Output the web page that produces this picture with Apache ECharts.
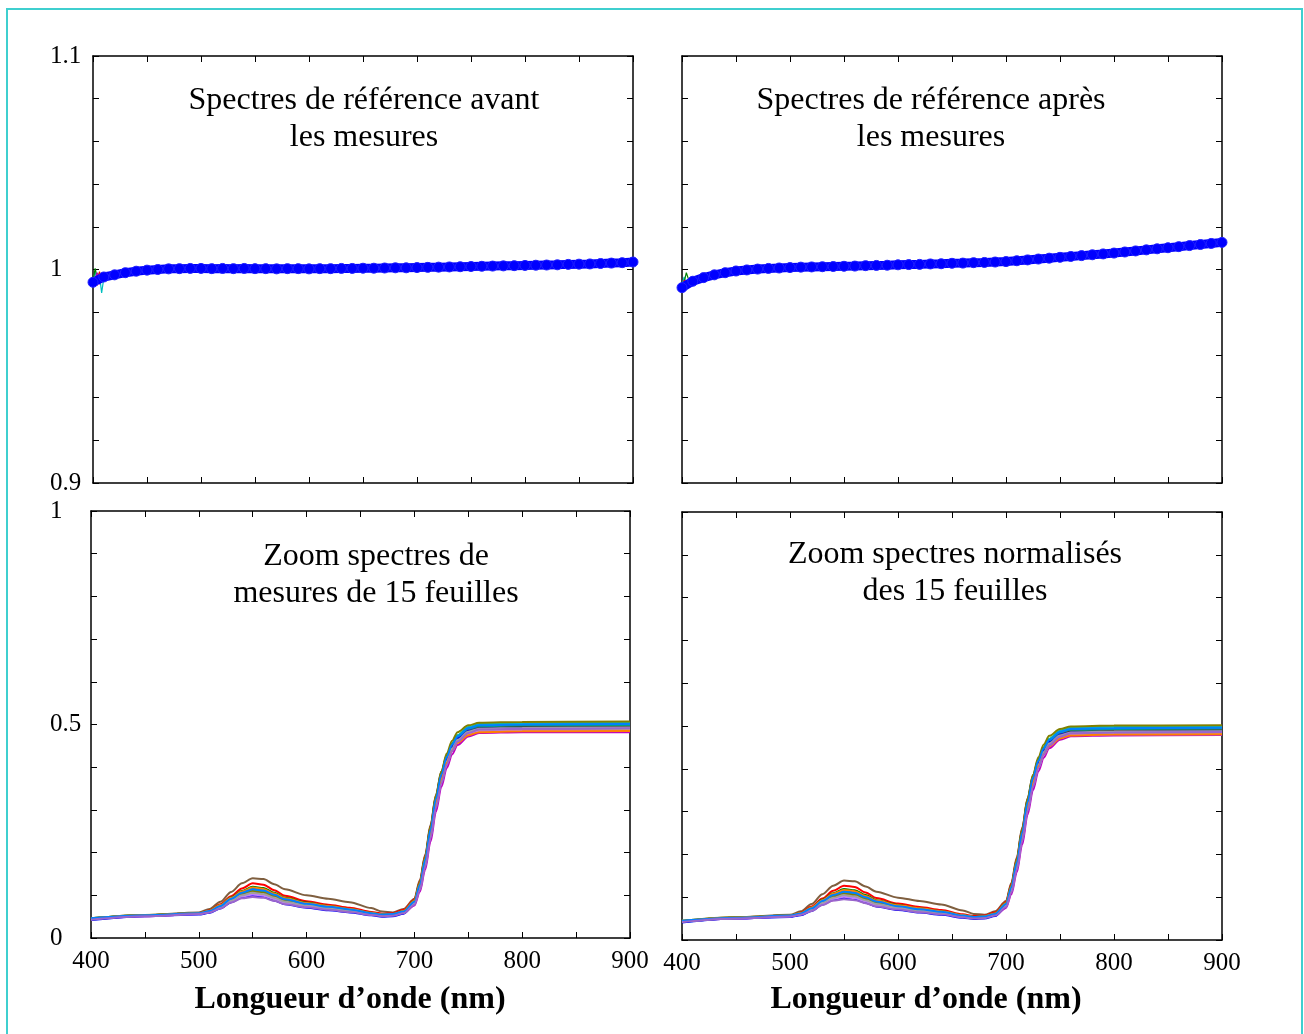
<!DOCTYPE html>
<html>
<head>
<meta charset="utf-8">
<script src="https://cdn.jsdelivr.net/npm/echarts@6/dist/echarts.min.js"></script>
<style>
html,body{margin:0;padding:0;background:#fff;}
#chart{width:1304px;height:1034px;}
</style>
</head>
<body>
<div id="chart"></div>
<script>
// ---------- DATA ----------
const xTickLabels = [400, 500, 600, 700, 800, 900];
const yTopLabels = [0.9, 1, 1.1];
const yBottomLabels = [0, 0.5, 1];

const titleTL = ["Spectres de référence avant", "les mesures"];
const titleTR = ["Spectres de référence après", "les mesures"];
const titleBL = ["Zoom spectres de", "mesures de 15 feuilles"];
const titleBR = ["Zoom spectres normalisés", "des 15 feuilles"];
const xName = "Longueur d’onde (nm)";

// reference spectra wavelengths (nm)
const wlRef = [400,410,420,430,440,450,460,470,480,490,500,510,520,530,540,550,560,570,580,590,600,
  610,620,630,640,650,660,670,680,690,700,710,720,730,740,750,760,770,780,790,800,
  810,820,830,840,850,860,870,880,890,900];
const refAvant = [0.9940,0.9965,0.9975,0.9985,0.9992,0.9997,1.0000,1.0003,1.0004,1.0005,1.0005,1.0004,1.0005,1.0004,1.0005,1.0004,1.0004,1.0003,1.0004,1.0004,1.0003,
  1.0004,1.0004,1.0005,1.0005,1.0006,1.0006,1.0007,1.0008,1.0008,1.0009,1.0010,1.0011,1.0012,1.0013,1.0014,1.0015,1.0016,1.0017,1.0018,1.0019,
  1.0020,1.0021,1.0022,1.0024,1.0025,1.0026,1.0028,1.0030,1.0032,1.0035];
const refApres = [0.9915,0.9945,0.9962,0.9975,0.9985,0.9993,0.9998,1.0002,1.0005,1.0007,1.0009,1.0011,1.0012,1.0013,1.0014,1.0015,1.0016,1.0018,1.0019,1.0020,1.0022,
  1.0023,1.0024,1.0026,1.0027,1.0029,1.0030,1.0032,1.0033,1.0035,1.0037,1.0041,1.0045,1.0049,1.0053,1.0057,1.0061,1.0065,1.0069,1.0073,1.0077,
  1.0082,1.0087,1.0092,1.0097,1.0102,1.0107,1.0112,1.0117,1.0122,1.0127];

// noisy start of the other reference scans (mostly hidden under the blue one)
const wlNoise = [400,402,404,406,408,410,412];
const noiseAvant = [
  [0.9950,0.9990,0.9935,0.9975,0.9890,0.9960,0.9968],
  [0.9945,1.0005,0.9960,0.9985,0.9950,0.9975,0.9978],
  [0.9930,0.9965,0.9925,0.9990,0.9945,0.9970,0.9972],
  [0.9940,0.9960,0.9985,0.9930,0.9965,0.9968,0.9975]
];
const noiseApres = [
  [0.9925,0.9965,0.9920,0.9950,0.9940,0.9948,0.9955],
  [0.9920,0.9940,0.9985,0.9955,0.9945,0.9950,0.9958],
  [0.9905,0.9950,0.9930,0.9945,0.9935,0.9946,0.9952],
  [0.9915,0.9935,0.9950,0.9920,0.9948,0.9944,0.9956]
];
const noiseColors = ["#00bfbf", "#008000", "#ff0000", "#bf00bf"];

// leaf spectra wavelengths (nm)
const wlLeaf = [400,450,500,510,520,530,540,550,560,570,580,600,620,640,660,670,680,690,700,705,710,715,720,725,730,735,740,750,760,800,900];
const leafA = [0.046,0.054,0.060,0.068,0.085,0.108,0.128,0.140,0.138,0.126,0.114,0.100,0.092,0.084,0.070,0.062,0.060,0.068,0.092,0.135,0.195,0.265,0.335,0.390,0.428,0.455,0.472,0.490,0.496,0.497,0.498];
const leafB = [0.044,0.053,0.058,0.065,0.079,0.098,0.116,0.128,0.125,0.112,0.099,0.086,0.078,0.071,0.061,0.057,0.058,0.066,0.090,0.132,0.192,0.262,0.332,0.386,0.425,0.452,0.470,0.488,0.494,0.495,0.496];
const leafC = [0.045,0.053,0.058,0.064,0.077,0.095,0.110,0.120,0.117,0.106,0.094,0.083,0.075,0.068,0.059,0.055,0.056,0.063,0.086,0.126,0.186,0.256,0.328,0.385,0.426,0.455,0.474,0.492,0.498,0.500,0.501];
const leafD = [0.043,0.052,0.057,0.062,0.074,0.090,0.104,0.112,0.109,0.099,0.089,0.079,0.072,0.066,0.058,0.054,0.055,0.062,0.084,0.122,0.180,0.250,0.322,0.380,0.424,0.455,0.475,0.494,0.501,0.503,0.504];
const leafE = [0.044,0.051,0.056,0.060,0.070,0.084,0.094,0.098,0.096,0.088,0.080,0.073,0.067,0.062,0.055,0.052,0.053,0.058,0.076,0.108,0.160,0.226,0.296,0.354,0.398,0.430,0.452,0.472,0.480,0.482,0.482];
const leafF = [0.046,0.053,0.057,0.061,0.072,0.087,0.099,0.104,0.101,0.093,0.084,0.076,0.070,0.064,0.057,0.054,0.055,0.061,0.082,0.118,0.174,0.242,0.312,0.368,0.410,0.440,0.460,0.479,0.486,0.488,0.489];
const leafG = [0.045,0.052,0.057,0.062,0.073,0.089,0.102,0.108,0.105,0.096,0.087,0.078,0.071,0.065,0.057,0.054,0.055,0.062,0.085,0.124,0.182,0.252,0.322,0.378,0.418,0.447,0.466,0.485,0.492,0.495,0.495];
const leafH = [0.042,0.051,0.055,0.059,0.069,0.084,0.095,0.100,0.097,0.088,0.079,0.071,0.065,0.060,0.053,0.050,0.051,0.057,0.080,0.118,0.176,0.246,0.318,0.376,0.418,0.448,0.468,0.485,0.490,0.491,0.492];
const leafI = [0.044,0.052,0.056,0.061,0.071,0.086,0.097,0.102,0.099,0.091,0.082,0.074,0.068,0.063,0.056,0.053,0.054,0.060,0.080,0.115,0.170,0.238,0.308,0.365,0.408,0.438,0.458,0.477,0.484,0.486,0.486];
const leafJ = [0.045,0.053,0.058,0.063,0.076,0.093,0.107,0.116,0.113,0.103,0.092,0.081,0.074,0.067,0.058,0.055,0.056,0.063,0.087,0.128,0.188,0.258,0.330,0.386,0.426,0.454,0.472,0.490,0.496,0.498,0.499];
const leafK = [0.046,0.054,0.058,0.063,0.075,0.091,0.104,0.110,0.107,0.098,0.088,0.079,0.072,0.066,0.058,0.055,0.056,0.063,0.088,0.130,0.190,0.262,0.334,0.390,0.432,0.462,0.482,0.498,0.504,0.506,0.507];
const leafL = [0.044,0.052,0.057,0.061,0.072,0.088,0.100,0.106,0.103,0.094,0.085,0.077,0.070,0.064,0.056,0.053,0.054,0.061,0.083,0.120,0.177,0.246,0.317,0.373,0.414,0.444,0.464,0.483,0.490,0.492,0.493];
const leafM = [0.045,0.053,0.058,0.064,0.077,0.094,0.109,0.118,0.115,0.104,0.093,0.082,0.075,0.068,0.059,0.055,0.056,0.063,0.086,0.125,0.183,0.250,0.318,0.372,0.410,0.438,0.457,0.475,0.482,0.484,0.485];
const leafN = [0.046,0.053,0.058,0.063,0.075,0.092,0.106,0.114,0.111,0.101,0.091,0.080,0.073,0.067,0.058,0.055,0.056,0.062,0.085,0.124,0.183,0.254,0.326,0.383,0.424,0.453,0.472,0.491,0.498,0.500,0.501];
const leafO = [0.043,0.051,0.056,0.060,0.069,0.083,0.093,0.096,0.094,0.087,0.079,0.072,0.066,0.061,0.054,0.051,0.052,0.058,0.078,0.112,0.166,0.234,0.305,0.362,0.406,0.438,0.460,0.480,0.488,0.490,0.491];

// normalized spectra (peak values match the left, plateau slightly lower)
const normA = [0.044,0.053,0.059,0.067,0.084,0.107,0.127,0.139,0.137,0.125,0.113,0.099,0.091,0.083,0.069,0.061,0.059,0.067,0.091,0.134,0.193,0.262,0.331,0.385,0.423,0.449,0.466,0.484,0.490,0.491,0.492];
const normB = [0.043,0.052,0.057,0.064,0.078,0.097,0.115,0.127,0.124,0.111,0.098,0.085,0.077,0.070,0.060,0.056,0.057,0.065,0.089,0.131,0.190,0.259,0.328,0.381,0.420,0.446,0.464,0.482,0.488,0.489,0.490];
const normC = [0.044,0.052,0.057,0.063,0.076,0.094,0.109,0.119,0.116,0.105,0.093,0.082,0.074,0.067,0.058,0.054,0.055,0.062,0.085,0.125,0.184,0.253,0.324,0.381,0.421,0.450,0.469,0.487,0.493,0.495,0.496];
const normD = [0.042,0.051,0.056,0.061,0.073,0.089,0.103,0.111,0.108,0.098,0.088,0.078,0.071,0.065,0.057,0.053,0.054,0.061,0.083,0.121,0.178,0.247,0.318,0.376,0.419,0.450,0.470,0.489,0.496,0.498,0.499];
const normE = [0.043,0.050,0.055,0.059,0.069,0.083,0.093,0.097,0.095,0.087,0.079,0.072,0.066,0.061,0.054,0.051,0.052,0.057,0.075,0.107,0.158,0.223,0.293,0.350,0.394,0.426,0.448,0.468,0.476,0.478,0.479];
const normF = [0.045,0.052,0.056,0.060,0.071,0.086,0.098,0.103,0.100,0.092,0.083,0.075,0.069,0.063,0.056,0.053,0.054,0.060,0.081,0.117,0.172,0.239,0.308,0.364,0.405,0.435,0.455,0.474,0.481,0.483,0.484];
const normG = [0.044,0.051,0.056,0.061,0.072,0.088,0.101,0.107,0.104,0.095,0.086,0.077,0.070,0.064,0.056,0.053,0.054,0.061,0.084,0.123,0.180,0.249,0.318,0.374,0.413,0.442,0.461,0.480,0.487,0.490,0.490];
const normH = [0.041,0.050,0.054,0.058,0.068,0.083,0.094,0.099,0.096,0.087,0.078,0.070,0.064,0.059,0.052,0.049,0.050,0.056,0.079,0.117,0.174,0.243,0.314,0.372,0.413,0.443,0.463,0.480,0.485,0.486,0.487];
const normI = [0.043,0.051,0.055,0.060,0.070,0.085,0.096,0.101,0.098,0.090,0.081,0.073,0.067,0.062,0.055,0.052,0.053,0.059,0.079,0.114,0.168,0.235,0.304,0.361,0.403,0.433,0.453,0.472,0.479,0.481,0.481];
const normJ = [0.044,0.052,0.057,0.062,0.075,0.092,0.106,0.115,0.112,0.102,0.091,0.080,0.073,0.066,0.057,0.054,0.055,0.062,0.086,0.127,0.186,0.255,0.326,0.382,0.421,0.449,0.467,0.485,0.491,0.493,0.494];
const normK = [0.045,0.053,0.057,0.062,0.074,0.090,0.103,0.109,0.106,0.097,0.087,0.078,0.071,0.065,0.057,0.054,0.055,0.062,0.087,0.128,0.188,0.259,0.330,0.386,0.427,0.457,0.477,0.493,0.499,0.501,0.502];
const normL = [0.043,0.051,0.056,0.060,0.071,0.087,0.099,0.105,0.102,0.093,0.084,0.076,0.069,0.063,0.055,0.052,0.053,0.060,0.082,0.119,0.175,0.243,0.313,0.369,0.410,0.439,0.459,0.478,0.485,0.487,0.488];
const normM = [0.044,0.052,0.057,0.063,0.076,0.093,0.108,0.117,0.114,0.103,0.092,0.081,0.074,0.067,0.058,0.054,0.055,0.062,0.085,0.124,0.181,0.247,0.314,0.368,0.406,0.434,0.453,0.471,0.478,0.480,0.481];
const normN = [0.045,0.052,0.057,0.062,0.074,0.091,0.105,0.113,0.110,0.100,0.090,0.079,0.072,0.066,0.057,0.054,0.055,0.061,0.084,0.123,0.181,0.251,0.322,0.379,0.419,0.448,0.467,0.486,0.493,0.495,0.496];
const normO = [0.042,0.050,0.055,0.059,0.068,0.082,0.092,0.095,0.093,0.086,0.078,0.071,0.065,0.060,0.053,0.050,0.051,0.057,0.077,0.111,0.164,0.231,0.301,0.358,0.402,0.434,0.455,0.475,0.483,0.485,0.486];

const leaves = [leafA,leafB,leafC,leafD,leafE,leafF,leafG,leafH,leafI,leafJ,leafK,leafL,leafM,leafN,leafO];
const norms = [normA,normB,normC,normD,normE,normF,normG,normH,normI,normJ,normK,normL,normM,normN,normO];
const leafColors = ["#7f5f3f","#ff0000","#008000","#00bfbf","#bf00bf","#bfbf00","#404040","#0000ff",
                    "#c080ff","#00a080","#808000","#a0a0a0","#ff8000","#0080ff","#9966cc"];

// ---------- CHART ----------
const FONT = "'Liberation Serif','Times New Roman',serif";
const chart = echarts.init(document.getElementById('chart'), null, {renderer: 'canvas'});

const grids = [
  {left: 93, top: 56, width: 540, height: 427},
  {left: 682, top: 56, width: 540, height: 427},
  {left: 91, top: 511, width: 539, height: 427},
  {left: 682, top: 512, width: 540, height: 428}
];

function tickCfg() {
  return {show: true, inside: true, length: 6, lineStyle: {color: '#000', width: 1}};
}
const xAxes = [], yAxes = [];
grids.forEach((g, i) => {
  const bottomRow = i >= 2;
  const leftCol = i % 2 === 0;
  ['bottom', 'top'].forEach(pos => {
    const labels = bottomRow && pos === 'bottom';
    xAxes.push({
      type: 'value', gridIndex: i, position: pos, min: 400, max: 900, interval: 100,
      axisLine: {show: true, onZero: false, lineStyle: {color: '#000', width: 1.5}},
      axisTick: tickCfg(),
      minorTick: {show: true, splitNumber: 2, length: 6, lineStyle: {color: '#000', width: 1}},
      splitLine: {show: false},
      axisLabel: {show: labels, fontFamily: FONT, fontSize: 25, color: '#000', margin: 11,
        formatter: v => xTickLabels.indexOf(v) >= 0 ? String(v) : ''}
    });
  });
  const yl = bottomRow ? yBottomLabels : yTopLabels;
  ['left', 'right'].forEach(pos => {
    const labels = leftCol && pos === 'left';
    yAxes.push({
      type: 'value', gridIndex: i, position: pos,
      min: bottomRow ? 0 : 0.9, max: bottomRow ? 1 : 1.1, interval: bottomRow ? 0.5 : 0.1,
      axisLine: {show: true, onZero: false, lineStyle: {color: '#000', width: 1.5}},
      axisTick: tickCfg(),
      minorTick: {show: true, splitNumber: 5, length: 6, lineStyle: {color: '#000', width: 1}},
      splitLine: {show: false},
      axisLabel: {show: labels, fontFamily: FONT, fontSize: 25, color: '#000',
        align: 'left', margin: g.left - 50, verticalAlign: 'middle', padding: [0, 0, 9, 0],
        formatter: v => {
          const r = Math.round(v * 100) / 100;
          return yl.indexOf(r) >= 0 ? String(r) : '';
        }}
    });
  });
});

function zip(xs, ys) { return xs.map((x, k) => [x, ys[k]]); }

const series = [];
// top panels: noisy starts + blue reference
[[noiseAvant, refAvant, 0], [noiseApres, refApres, 1]].forEach(([noise, ref, gi]) => {
  noise.forEach((arr, k) => series.push({
    type: 'line', xAxisIndex: gi * 2, yAxisIndex: gi * 2, data: zip(wlNoise, arr),
    showSymbol: false, lineStyle: {color: noiseColors[k], width: 1.2}, silent: true
  }));
  series.push({
    type: 'line', xAxisIndex: gi * 2, yAxisIndex: gi * 2, data: zip(wlRef, ref),
    symbol: 'circle', symbolSize: 10, showSymbol: true,
    itemStyle: {color: '#0000ff', borderColor: '#2020ff', borderWidth: 1},
    lineStyle: {color: '#0000ff', width: 9}, silent: true
  });
});
// bottom panels: 15 leaves
[[leaves, 2], [norms, 3]].forEach(([set, gi]) => {
  set.forEach((arr, k) => series.push({
    type: 'line', xAxisIndex: gi * 2, yAxisIndex: gi * 2, data: zip(wlLeaf, arr),
    showSymbol: false, smooth: 0.3, smoothMonotone: 'x',
    lineStyle: {color: leafColors[k], width: 2}, silent: true
  }));
});

function txt(x, y, text, size, bold) {
  return {type: 'text', x: x, y: y, silent: true,
    style: {text: text, fill: '#000', font: (bold ? 'bold ' : '') + size + 'px ' + FONT,
      align: 'center', verticalAlign: 'middle'}};
}

const graphics = [
  {type: 'rect', shape: {x: 7, y: 9, width: 1295, height: 1040}, silent: true,
   style: {fill: 'none', stroke: '#3fcfcf', lineWidth: 2}},
  txt(364, 101, titleTL[0], 32), txt(364, 138, titleTL[1], 32),
  txt(931, 101, titleTR[0], 32), txt(931, 138, titleTR[1], 32),
  txt(376, 557, titleBL[0], 32), txt(376, 594, titleBL[1], 32),
  txt(955, 555, titleBR[0], 32), txt(955, 592, titleBR[1], 32),
  txt(350, 1000, xName, 32, true), txt(926, 1000, xName, 32, true)
];

chart.setOption({
  backgroundColor: '#fff',
  animation: false,
  grid: grids,
  xAxis: xAxes,
  yAxis: yAxes,
  series: series,
  graphic: graphics
});
</script>
</body>
</html>
